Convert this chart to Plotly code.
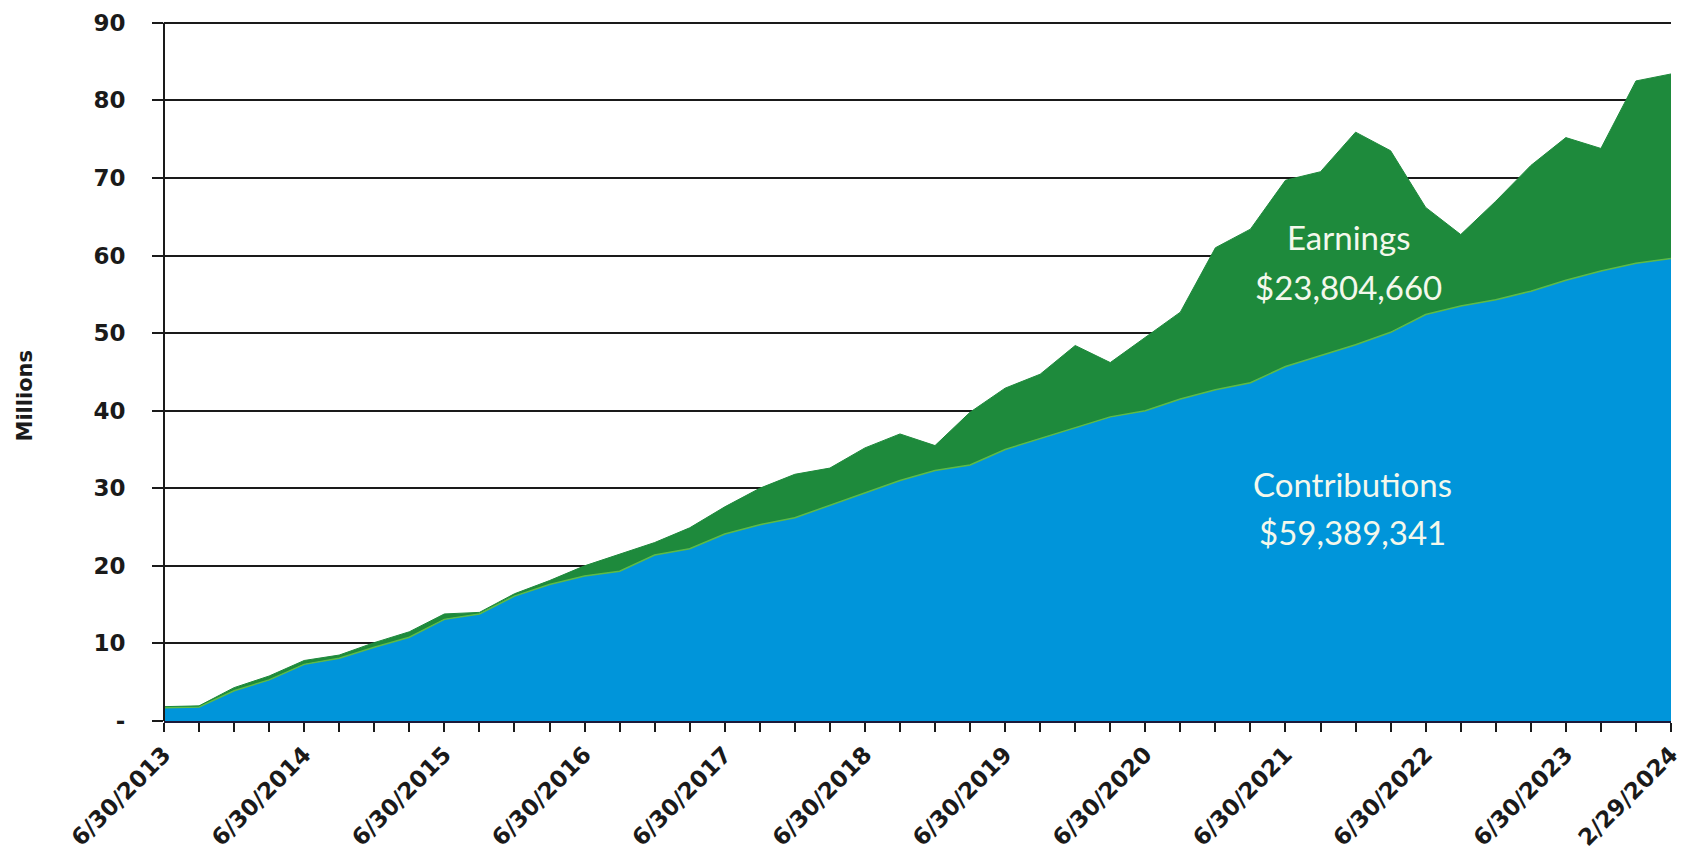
import plotly.graph_objects as go

# Quarter-end dates (category axis) from 6/30/2013 to 12/31/2023, plus 2/29/2024
quarter_ends = ["6/30", "9/30", "12/31", "3/31"]
dates = []
for k in range(43):
    q = k % 4
    base = 2013 + k // 4
    yr = base + 1 if q == 3 else base
    dates.append(f"{quarter_ends[q]}/{yr}")
dates.append("2/29/2024")

# Values in millions
contributions = [1.7, 1.8, 3.9, 5.3, 7.3, 8.1, 9.5, 10.8, 13.1, 13.8, 16.1, 17.6,
                 18.7, 19.3, 21.4, 22.2, 24.1, 25.3, 26.2, 27.8, 29.3, 31.0, 32.3,
                 33.0, 35.0, 36.4, 37.7, 39.2, 40.0, 41.5, 42.7, 43.6, 45.7, 47.1,
                 48.5, 50.1, 52.4, 53.5, 54.3, 55.4, 56.8, 58.0, 59.0, 59.6]
earnings = [0.15, 0.15, 0.4, 0.5, 0.5, 0.4, 0.6, 0.7, 0.7, 0.2, 0.3, 0.5,
            1.3, 2.2, 1.6, 2.7, 3.5, 4.7, 5.6, 4.8, 5.9, 6.0, 3.2,
            6.8, 7.9, 8.3, 10.7, 7.0, 9.4, 11.2, 18.3, 19.8, 24.0, 23.7,
            27.4, 23.4, 13.8, 9.2, 12.7, 16.2, 18.4, 15.8, 23.5, 23.8]

labeled_dates = ["6/30/2013", "6/30/2014", "6/30/2015", "6/30/2016", "6/30/2017",
                 "6/30/2018", "6/30/2019", "6/30/2020", "6/30/2021", "6/30/2022",
                 "6/30/2023", "2/29/2024"]
y_ticks = [0, 10, 20, 30, 40, 50, 60, 70, 80, 90]
y_ticktext = ["-", "10", "20", "30", "40", "50", "60", "70", "80", "90"]

BLUE = "#0095DA"
GREEN = "#1E8A3C"
TEXT = "#F4F8EC"
INK = "#1a1a1a"

fig = go.Figure()
fig.add_trace(go.Scatter(
    x=dates, y=contributions, name="Contributions", stackgroup="one",
    mode="lines", line=dict(color="#5DBB46", width=1.5), fillcolor=BLUE,
))
fig.add_trace(go.Scatter(
    x=dates, y=earnings, name="Earnings", stackgroup="one",
    mode="lines", line=dict(color=GREEN, width=1), fillcolor=GREEN,
))

tickfont = dict(family="DejaVu Sans", size=23, color=INK, weight="bold")

fig.update_layout(
    width=1693, height=863,
    margin=dict(l=164, r=17, t=10, b=142),
    paper_bgcolor="white", plot_bgcolor="white",
    showlegend=False,
    xaxis=dict(
        type="category", range=[0, len(dates) - 1],
        tickmode="array", tickvals=dates,
        ticktext=[d if d in labeled_dates else "" for d in dates],
        tickangle=-45, tickfont=tickfont,
        ticks="outside", ticklen=9, tickwidth=2, tickcolor=INK,
        showline=True, linecolor="#1a1a3a", linewidth=2,
        showgrid=False, zeroline=False,
    ),
    yaxis=dict(
        range=[0, 91], tickmode="array", tickvals=y_ticks, ticktext=y_ticktext,
        tickfont=tickfont, ticks="outside", ticklen=11, tickwidth=2,
        tickcolor=INK, ticklabelstandoff=22,
        showline=False,
        showgrid=True, gridcolor=INK, gridwidth=2, zeroline=False,
    ),
    shapes=[dict(type="line", xref="paper", yref="y", x0=0, x1=0, y0=0, y1=90,
                 line=dict(color=INK, width=2))],
)

# y-axis title
fig.add_annotation(x=-0.092, xref="paper", y=42, yref="y", text="Millions",
                   textangle=-90, showarrow=False, xanchor="center", yanchor="middle",
                   font=dict(family="DejaVu Sans", size=21, color=INK, weight="bold"))

ann_font = dict(family="Lato", size=33, color=TEXT)
for text, x, y in [("Earnings", 33.8, 62.4), ("$23,804,660", 33.8, 55.9),
                   ("Contributions", 33.9, 30.6), ("$59,389,341", 33.9, 24.4)]:
    fig.add_annotation(x=x, y=y, xref="x", yref="y", text=text, showarrow=False,
                       font=ann_font, xanchor="center", yanchor="middle")

fig.write_html("out.html")
